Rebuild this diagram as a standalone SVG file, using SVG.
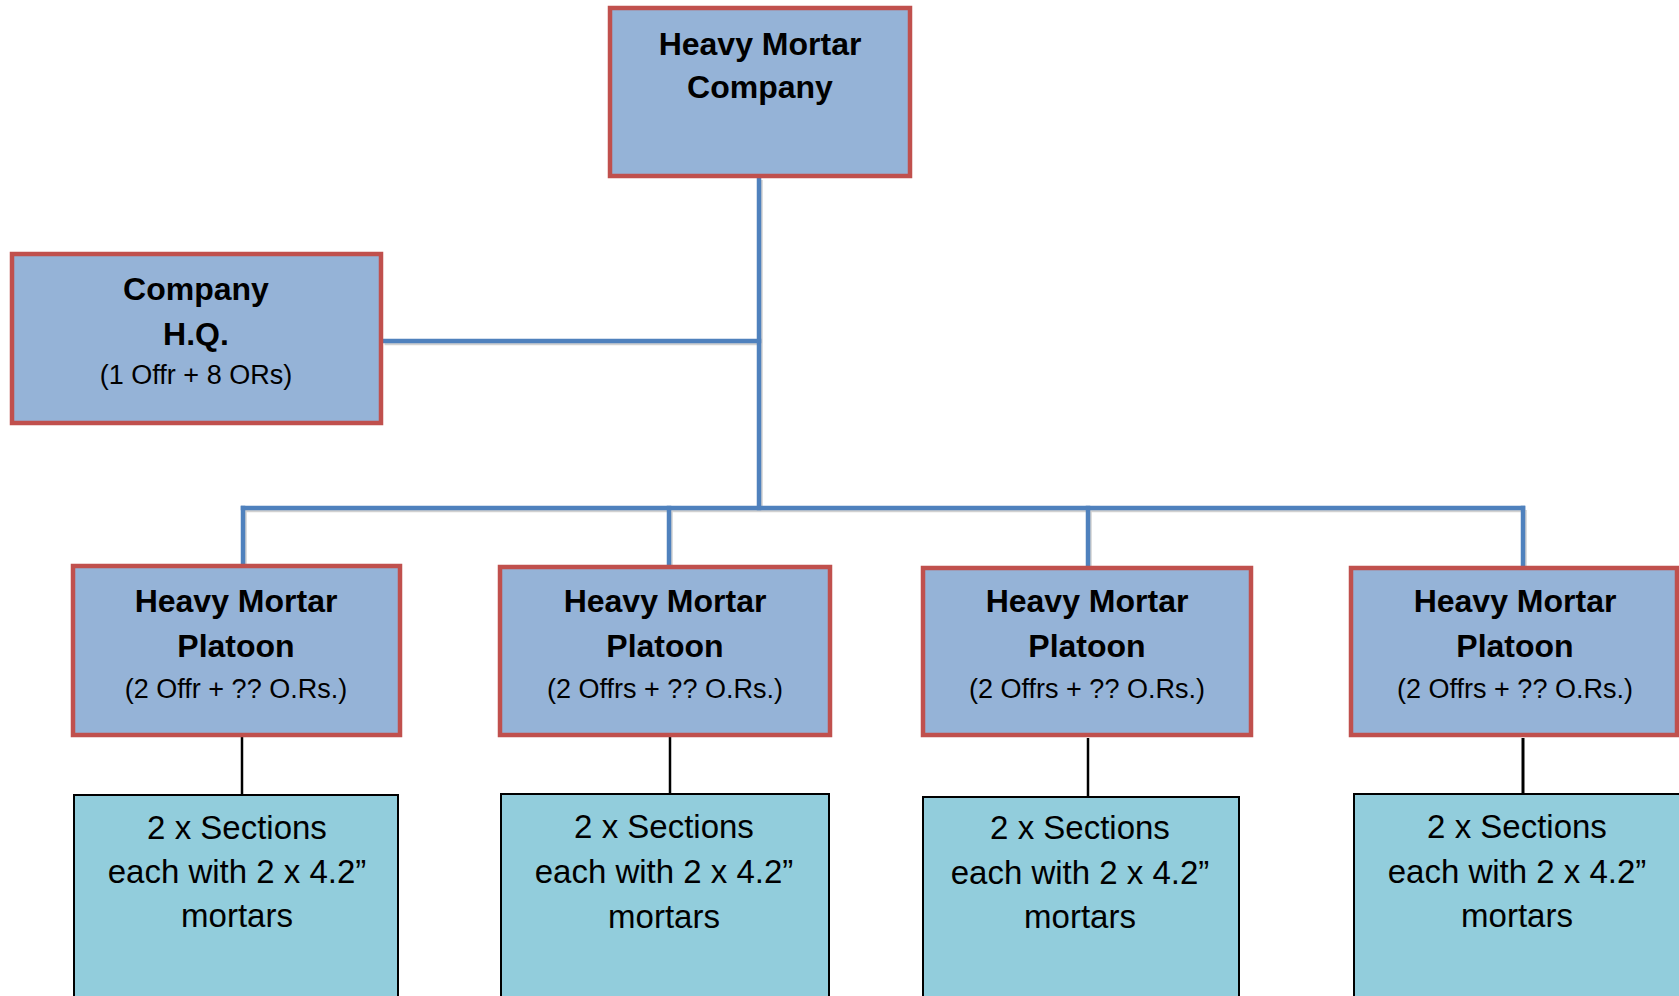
<svg xmlns="http://www.w3.org/2000/svg" width="1679" height="996" viewBox="0 0 1679 996">
<style>
.unit{fill:#95b3d7;stroke:#c0504d;stroke-width:4.5}
.sec{fill:#92cddc;stroke:#000;stroke-width:2}
.blue{stroke:#4f81bd;stroke-width:4.5;fill:none;stroke-linecap:square}
.blk{stroke:#000;stroke-width:2.5;fill:none}
.b{font-family:"Liberation Sans",Arial,sans-serif;font-weight:bold;font-size:32px;fill:#000;text-anchor:middle}
.r{font-family:"Liberation Sans",Arial,sans-serif;font-size:27px;fill:#000;text-anchor:middle}
.s{font-family:"Liberation Sans",Arial,sans-serif;font-size:33px;fill:#000;text-anchor:middle}
</style>
<rect width="1679" height="996" fill="#fff"/>
<g id="connectors">
<g opacity="0.18" stroke="#000" stroke-width="4.5" fill="none" transform="translate(1.5,2)">
<path d="M759 178V508M383 341H759M243 508H1523M243 508V564M669 508V566M1088 508V566M1523 508V566"/>
</g>
<path class="blue" d="M759 178V508"/>
<path class="blue" d="M384 341H759"/>
<path class="blue" d="M243 508H1523"/>
<path class="blue" d="M243 508V563"/>
<path class="blue" d="M669 508V565"/>
<path class="blue" d="M1088 508V565"/>
<path class="blue" d="M1523 508V565"/>
<path class="blk" d="M242 737V795"/>
<path class="blk" d="M670 737V794"/>
<path class="blk" d="M1088 738V797"/>
<path class="blk" d="M1523 738V794" style="stroke-width:3"/>
</g>
<g id="company">
<rect class="unit" x="610" y="8" width="300" height="168"/>
<text class="b" x="760" y="55">Heavy Mortar</text>
<text class="b" x="760" y="98">Company</text>
</g>
<g id="hq">
<rect class="unit" x="12" y="254" width="369" height="169"/>
<text class="b" x="196" y="300">Company</text>
<text class="b" x="196" y="345">H.Q.</text>
<text class="r" x="196" y="384">(1 Offr + 8 ORs)</text>
</g>
<g id="platoon1">
<rect class="unit" x="73" y="566" width="327" height="169"/>
<text class="b" x="236" y="612">Heavy Mortar</text>
<text class="b" x="236" y="657">Platoon</text>
<text class="r" x="236" y="698">(2 Offr + ?? O.Rs.)</text>
</g>
<g id="platoon2">
<rect class="unit" x="500" y="567" width="330" height="168"/>
<text class="b" x="665" y="612">Heavy Mortar</text>
<text class="b" x="665" y="657">Platoon</text>
<text class="r" x="665" y="698">(2 Offrs + ?? O.Rs.)</text>
</g>
<g id="platoon3">
<rect class="unit" x="923" y="568" width="328" height="167"/>
<text class="b" x="1087" y="612">Heavy Mortar</text>
<text class="b" x="1087" y="657">Platoon</text>
<text class="r" x="1087" y="698">(2 Offrs + ?? O.Rs.)</text>
</g>
<g id="platoon4">
<rect class="unit" x="1351" y="568" width="326" height="167"/>
<text class="b" x="1515" y="612">Heavy Mortar</text>
<text class="b" x="1515" y="657">Platoon</text>
<text class="r" x="1515" y="698">(2 Offrs + ?? O.Rs.)</text>
</g>
<g id="sections1">
<rect class="sec" x="74" y="795" width="324" height="220"/>
<text class="s" x="237" y="839">2 x Sections</text>
<text class="s" x="237" y="883">each with 2 x 4.2”</text>
<text class="s" x="237" y="927">mortars</text>
</g>
<g id="sections2">
<rect class="sec" x="501" y="794" width="328" height="220"/>
<text class="s" x="664" y="838">2 x Sections</text>
<text class="s" x="664" y="883">each with 2 x 4.2”</text>
<text class="s" x="664" y="928">mortars</text>
</g>
<g id="sections3">
<rect class="sec" x="923" y="797" width="316" height="220"/>
<text class="s" x="1080" y="839">2 x Sections</text>
<text class="s" x="1080" y="884">each with 2 x 4.2”</text>
<text class="s" x="1080" y="928">mortars</text>
</g>
<g id="sections4">
<rect class="sec" x="1354" y="794" width="340" height="220"/>
<text class="s" x="1517" y="838">2 x Sections</text>
<text class="s" x="1517" y="883">each with 2 x 4.2”</text>
<text class="s" x="1517" y="927">mortars</text>
</g>
</svg>
